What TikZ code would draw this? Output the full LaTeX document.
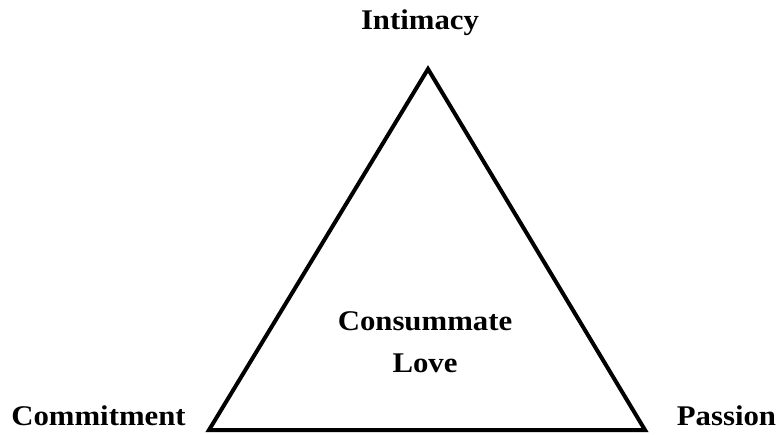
\documentclass[tikz,border=0pt]{standalone}
\usepackage{fontspec}
\setmainfont[FakeStretch=1.08]{Liberation Serif}
\begin{document}
\begin{tikzpicture}[x=1pt,y=-1pt,
  label/.style={font=\fontsize{28.5}{32}\selectfont\bfseries, inner sep=0pt, anchor=base},
  edge/.style={line width=4pt, line join=miter}]
\useasboundingbox (0,0) rectangle (781,434);
% corners of the triangle
\coordinate (top) at (428,69);
\coordinate (left) at (209,430);
\coordinate (right) at (645,430);
\draw[edge] (top) -- (right) -- (left) -- cycle;
% corner labels
\node[label] (intimacy) at (420,29.5) {Intimacy};
\node[label] (commitment) at (98.5,425) {Commitment};
\node[label] (passion) at (726.5,425) {Passion};
% centre label
\node[label] (consummate) at (425,330) {Consummate};
\node[label] (love) at (425,372) {Love};
\end{tikzpicture}
\end{document}
